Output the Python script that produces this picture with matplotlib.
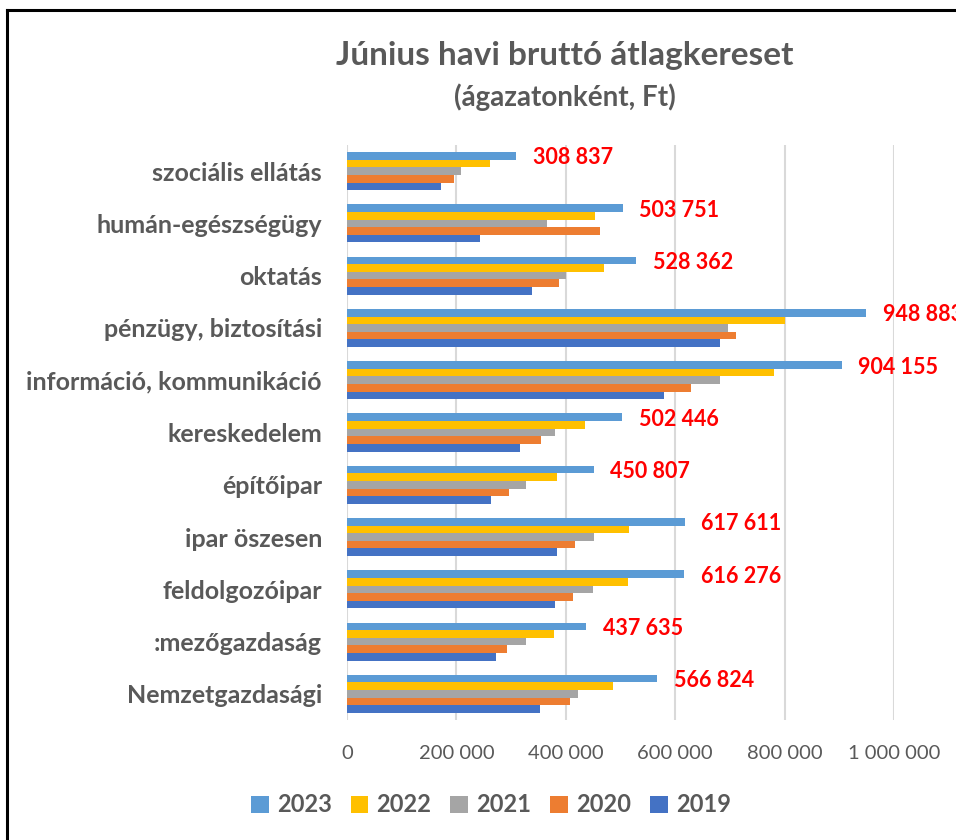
import numpy as np
import matplotlib
matplotlib.use("Agg")
import matplotlib.pyplot as plt
from matplotlib.lines import Line2D

plt.rcParams['font.family'] = ['Lato', 'DejaVu Sans']

# adatok (felülről lefelé)
kategoriak = ["szociális ellátás", "humán-egészségügy", "oktatás", "pénzügy, biztosítási",
              "információ, kommunikáció", "kereskedelem", "építőipar", "ipar öszesen",
              "feldolgozóipar", ":mezőgazdaság", "Nemzetgazdasági"]
evek = ["2023", "2022", "2021", "2020", "2019"]
ertek_2023 = [308837, 503751, 528362, 948883, 904155, 502446, 450807, 617611, 616276, 437635, 566824]
ertek_2022 = [261000, 453000, 469000, 801000, 781000, 435000, 384000, 515000, 514000, 378000, 487000]
ertek_2021 = [209000, 366000, 401000, 697000, 681000, 380000, 328000, 452000, 450000, 328000, 422000]
ertek_2020 = [196000, 462000, 387000, 712000, 629000, 354000, 297000, 417000, 414000, 292000, 407000]
ertek_2019 = [172000, 244000, 338000, 682000, 579000, 317000, 264000, 384000, 380000, 272000, 352000]
cimkek = ["308 837", "503 751", "528 362", "948 883", "904 155", "502 446",
          "450 807", "617 611", "616 276", "437 635", "566 824"]

szinek = ["#5B9BD5", "#FFC000", "#A5A5A5", "#ED7D31", "#4472C4"]
sorozatok = [ertek_2023, ertek_2022, ertek_2021, ertek_2020, ertek_2019]
szurke = "#595959"

fig = plt.figure(figsize=(9.56, 8.4), dpi=100)
ax = fig.add_axes([347/956, 1 - 720/840, (894-347)/956, (720-145)/840])

y = np.arange(len(kategoriak))
h = 0.146
for j, (ev, vals) in enumerate(zip(evek, sorozatok)):
    ax.barh(y + (j - 2) * h, vals, height=h, color=szinek[j], label=ev, zorder=3)

# adatcímkék a 2023-as oszlopokhoz
for i, c in enumerate(cimkek):
    ax.annotate(c, (ertek_2023[i], y[i] - 2 * h), xytext=(12, -1.5), textcoords="offset points",
                ha="left", va="center", color="#FF0000", fontsize=15.5, fontweight="bold",
                annotation_clip=False)

ax.set_xlim(0, 1000000)
ax.set_ylim(len(kategoriak) - 0.5, -0.5)
ax.set_xticks([0, 200000, 400000, 600000, 800000, 1000000])
ax.set_xticklabels(["0", "200 000", "400 000", "600 000", "800 000", "1 000 000"])
ax.set_yticks(y)
ax.set_yticklabels(kategoriak)
ax.tick_params(axis="x", length=0, labelsize=14.5, labelcolor=szurke, pad=18)
ax.tick_params(axis="y", length=0, labelsize=18, labelcolor=szurke, pad=18)
for lab in ax.get_yticklabels():
    lab.set_fontweight("bold")
ax.grid(axis="x", color="#D9D9D9", linewidth=1.5, zorder=0)
for s in ax.spines.values():
    s.set_visible(False)

fig.text(565/956, 1 - 55/840, "Június havi bruttó átlagkereset", ha="center", va="center",
         fontsize=24, fontweight="bold", color=szurke)
fig.text(565/956, 1 - 97/840, "(ágazatonként, Ft)", ha="center", va="center",
         fontsize=20, fontweight="bold", color=szurke)

leg = fig.legend(loc="center", bbox_to_anchor=(491/956, 1 - 805/840), ncol=5, frameon=False,
                 handlelength=0.75, handleheight=0.75, handletextpad=0.35, columnspacing=0.8,
                 prop={"size": 17, "weight": "bold"})
for t in leg.get_texts():
    t.set_color(szurke)

# keret
fig.add_artist(Line2D([7/956, 7/956], [0, 1 - 10/840], color="black", lw=2.2, transform=fig.transFigure))
fig.add_artist(Line2D([7/956, 1], [1 - 10/840, 1 - 10/840], color="black", lw=2.2, transform=fig.transFigure))

fig.savefig("out.png", dpi=100)
